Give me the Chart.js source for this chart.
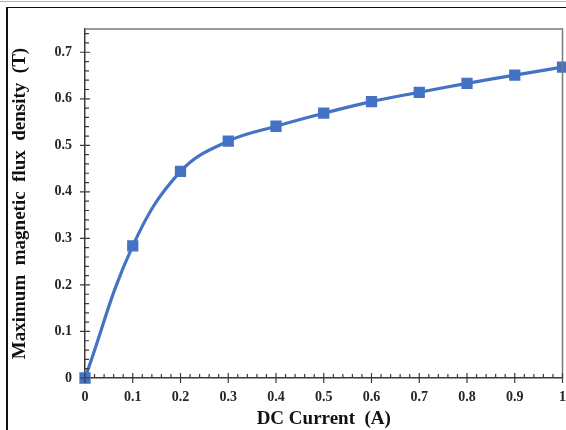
<!DOCTYPE html>
<html>
<head>
<meta charset="utf-8">
<script src="https://cdn.jsdelivr.net/npm/chart.js@4.4.0/dist/chart.umd.min.js"></script>
<style>
  html, body { margin: 0; padding: 0; background: #fff; }
  #wrap { position: relative; width: 566px; height: 430px; overflow: hidden; }
  #redLine { position: absolute; left: 0; top: 1px; width: 566px; height: 1px; background: #d9a3a3; }
  #topLine { position: absolute; left: 6px; top: 7px; width: 560px; height: 1px; background: #111; }
  #leftLine { position: absolute; left: 6px; top: 7px; width: 2px; height: 423px; background: #111; }
  canvas { position: absolute; left: 0; top: 0; }
</style>
</head>
<body>
<div id="wrap">
  <div id="redLine"></div>
  <div id="topLine"></div>
  <div id="leftLine"></div>
  <canvas id="myChart" width="566" height="430"></canvas>
</div>
<script>
// 데이터
const currents = [0, 0.1, 0.2, 0.3, 0.4, 0.5, 0.6, 0.7, 0.8, 0.9, 1.0];
const fluxDensity = [0, 0.284, 0.444, 0.509, 0.541, 0.569, 0.594, 0.614, 0.633, 0.651, 0.668];
const xTickLabels = ['0', '0.1', '0.2', '0.3', '0.4', '0.5', '0.6', '0.7', '0.8', '0.9', '1'];
const yTickLabels = ['0', '0.1', '0.2', '0.3', '0.4', '0.5', '0.6', '0.7'];

const axisColor = '#3a3a3a';
const labelFont = { family: '"Liberation Serif", "Times New Roman", serif', size: 14, weight: 'bold' };
const titleFont = { family: '"Liberation Serif", "Times New Roman", serif', size: 19, weight: 'bold' };

// 눈금 (major + minor) 과 테두리 그리기
const tickPlugin = {
    id: 'tickPlugin',
    afterDatasetsDraw(chart) {
        const { ctx, chartArea, scales } = chart;
        const xs = scales.x, ys = scales.y;
        ctx.save();
        // top / right frame
        ctx.strokeStyle = '#7a7a7a';
        ctx.lineWidth = 1.5;
        ctx.beginPath();
        ctx.moveTo(chartArea.left, chartArea.top);
        ctx.lineTo(chartArea.right, chartArea.top);
        ctx.lineTo(chartArea.right, chartArea.bottom);
        ctx.stroke();

        ctx.strokeStyle = axisColor;
        ctx.lineWidth = 1.2;
        ctx.beginPath();
        for (let i = 0; i <= 50; i++) {
            const px = xs.getPixelForValue(i * 0.02);
            const major = i % 5 === 0;
            ctx.moveTo(px, chartArea.bottom + (major ? 5 : 0));
            ctx.lineTo(px, chartArea.bottom - (major ? 5 : 4));
        }
        for (let i = 0; i <= 37; i++) {
            const py = ys.getPixelForValue(i * 0.02);
            const major = i % 5 === 0;
            ctx.moveTo(chartArea.left - (major ? 5 : 0), py);
            ctx.lineTo(chartArea.left + (major ? 5 : 4), py);
        }
        ctx.stroke();
        ctx.restore();
    }
};

const ctx = document.getElementById('myChart').getContext('2d');

const myChart = new Chart(ctx, {
    type: 'line',
    data: {
        datasets: [{
            data: currents.map((c, i) => ({ x: c, y: fluxDensity[i] })),
            borderColor: '#4472C4',
            backgroundColor: '#4472C4',
            borderWidth: 3.2,
            tension: 0.4,
            pointStyle: 'rect',
            pointRadius: 5.7,
            pointHoverRadius: 5.7,
            clip: false,
        }],
    },
    options: {
        responsive: false,
        animation: false,
        layout: { autoPadding: false, padding: { top: 29, right: 0, left: 0, bottom: 0 } },
        plugins: {
            legend: { display: false },
            tooltip: { enabled: false },
        },
        scales: {
            x: {
                type: 'linear',
                min: 0,
                max: 1,
                afterBuildTicks: (scale) => {
                    scale.ticks = currents.map(v => ({ value: v }));
                },
                afterFit: (scale) => { scale.height = 52; },
                // 투명 눈금으로 라벨 간격만 확보
                grid: { display: true, color: 'rgba(0,0,0,0)', drawOnChartArea: false, drawTicks: true, tickLength: 11 },
                border: { display: true, color: axisColor, width: 1.5 },
                ticks: {
                    color: '#262626',
                    font: labelFont,
                    padding: 0,
                    maxRotation: 0,
                    autoSkip: false,
                    callback: (v, i) => xTickLabels[i],
                },
                title: {
                    display: true,
                    text: 'DC Current  (A)',
                    color: '#111',
                    font: titleFont,
                    padding: { top: 0, bottom: 0 },
                },
            },
            y: {
                type: 'linear',
                min: 0,
                max: 0.75,
                afterBuildTicks: (scale) => {
                    scale.ticks = yTickLabels.map(v => ({ value: parseFloat(v) }));
                },
                afterFit: (scale) => { scale.width = 85; },
                grid: { display: false, drawTicks: false },
                border: { display: true, color: axisColor, width: 1.5 },
                ticks: {
                    color: '#262626',
                    font: labelFont,
                    padding: 13,
                    autoSkip: false,
                    callback: (v, i) => yTickLabels[i],
                },
                title: {
                    display: true,
                    text: 'Maximum  magnetic  flux  density  (T)',
                    color: '#111',
                    font: titleFont,
                    padding: { top: 9, bottom: 0 },
                },
            },
        },
    },
    plugins: [tickPlugin],
});
</script>
</body>
</html>
